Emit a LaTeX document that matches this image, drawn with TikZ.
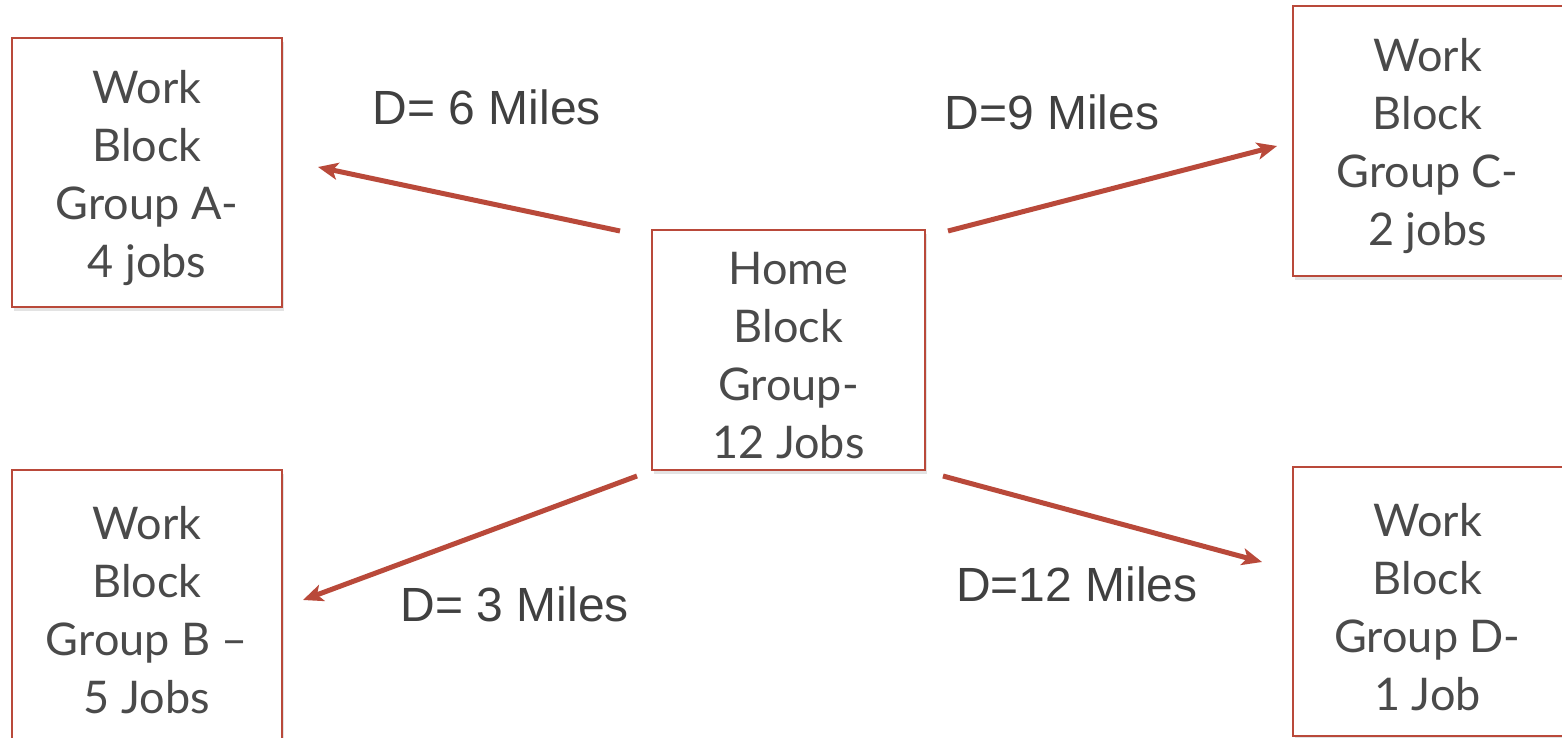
\documentclass[tikz,border=0pt]{standalone}
\usepackage{fontspec}
\setmainfont{Liberation Sans}
\newfontfamily\boxfont{Lato}
\usetikzlibrary{arrows.meta,shadows}
\definecolor{accent}{HTML}{B9493A}
\definecolor{boxtext}{HTML}{4A4A4A}
\definecolor{labtext}{HTML}{404040}
\newcommand\firststrut{\rule{0pt}{44pt}}
\tikzset{
  blockbox/.style={draw=accent, line width=2pt, fill=white, minimum width=270pt, minimum height=269pt,
    align=center, text=boxtext, font=\boxfont\fontsize{45}{58}\selectfont, inner sep=0pt,
    drop shadow={opacity=0.22, shadow xshift=2pt, shadow yshift=-4pt}},
  distlabel/.style={text=labtext, font=\fontsize{48}{54}\selectfont, inner sep=0pt},
  conn/.style={draw=accent, line width=5pt, -{Stealth[length=20pt,width=17pt,inset=5pt]}}
}
\begin{document}
\begin{tikzpicture}[x=1pt,y=-1pt]
\useasboundingbox (0,0) rectangle (1562,738);
\fill[white] (0,0) rectangle (1562,738);
\node[blockbox] (A) at (147,172.5) {\firststrut Work\\Block\\Group A-\\4 jobs};
\node[blockbox] (C) at (1427.5,141) {\firststrut Work\\Block\\Group C-\\2 jobs};
\node[blockbox, minimum width=273pt, minimum height=240pt] (H) at (788.5,350) {\firststrut Home\\Block\\Group-\\12 Jobs};
\node[blockbox] (B) at (147,604.5) {\firststrut Work\\Block\\Group B –\\5 Jobs};
\node[blockbox] (D) at (1427.5,601.5) {\firststrut Work\\Block\\Group D-\\1 Job};
\node[distlabel] (lA) at (487,107) {D= 6 Miles};
\node[distlabel] (lC) at (1052,112) {D=9 Miles};
\node[distlabel] (lB) at (515,604) {D= 3 Miles};
\node[distlabel] (lD) at (1077,584) {D=12 Miles};
\coordinate (sA) at (620,231);
\coordinate (eA) at (318,167);
\coordinate (sC) at (948,231);
\coordinate (eC) at (1277,146);
\coordinate (sB) at (637,476);
\coordinate (eB) at (303,600);
\coordinate (sD) at (943,476);
\coordinate (eD) at (1262,562);
\draw[conn] (sA) -- (eA);
\draw[conn] (sC) -- (eC);
\draw[conn] (sB) -- (eB);
\draw[conn] (sD) -- (eD);
\end{tikzpicture}
\end{document}
